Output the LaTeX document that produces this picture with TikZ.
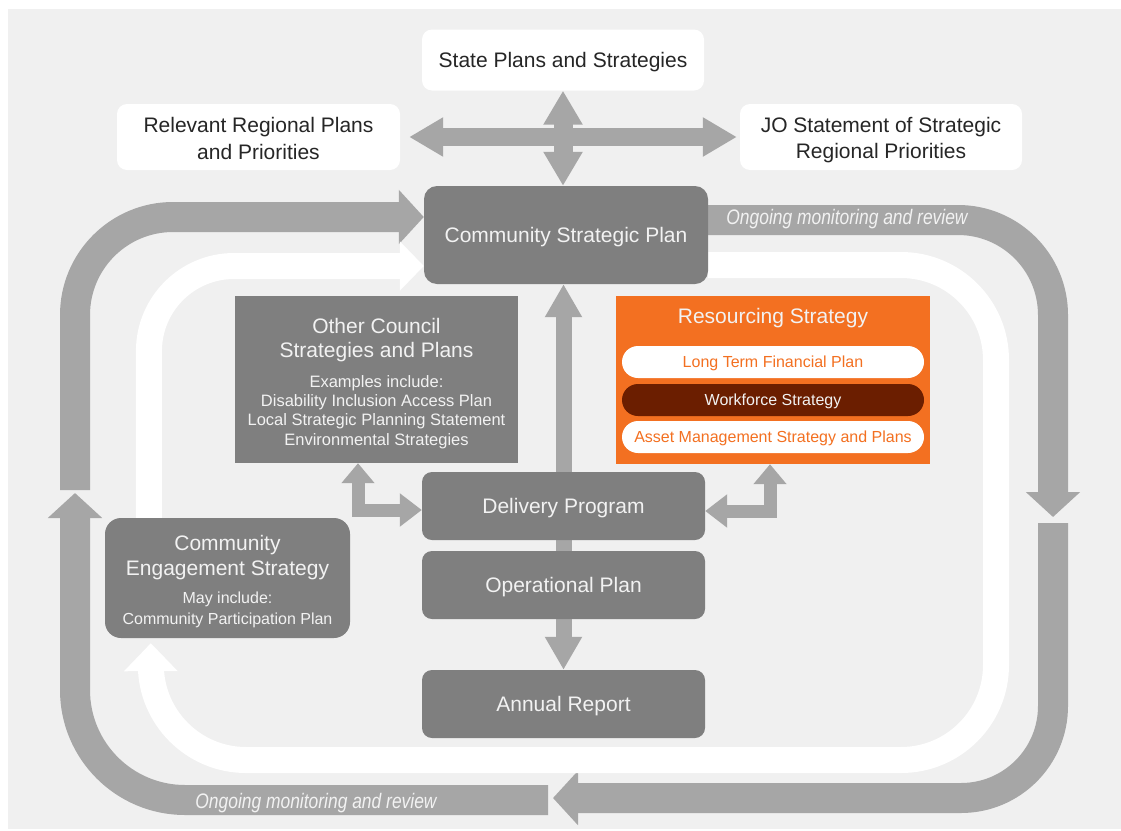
\documentclass[tikz,border=0pt]{standalone}
\usepackage{fontspec}
\setmainfont{Liberation Sans}
\usetikzlibrary{arrows.meta,calc}
\definecolor{bgc}{HTML}{F0F0F0}
\definecolor{boxc}{HTML}{7F7F7F}
\definecolor{arrc}{HTML}{A6A6A6}
\definecolor{orng}{HTML}{F37021}
\definecolor{brwn}{HTML}{6B1E00}
\definecolor{ltxt}{HTML}{F2F2F2}
\definecolor{dtxt}{HTML}{262626}
\newcommand{\lnstrut}{\rule[-3pt]{0pt}{24pt}}
\pgfdeclarelayer{back}
\pgfdeclarelayer{arrowlayer}
\pgfsetlayers{back,arrowlayer,main}
\begin{document}
\begin{tikzpicture}[x=1pt,y=-1pt,
  bigfont/.style={font=\fontsize{21}{25}\selectfont},
  oneline/.style={text height=15pt, text depth=0pt},
  whitebox/.style={fill=white, rounded corners=10pt, text=dtxt, align=center, inner sep=0pt, bigfont},
  darkbox/.style={fill=boxc, rounded corners=10pt, text=ltxt, align=center, inner sep=0pt, bigfont},
  pill/.style={fill=white, text=orng, rounded corners=16pt, minimum width=302pt, minimum height=32pt, inner sep=0pt, text height=11.5pt, text depth=0pt, font=\fontsize{16}{19}\selectfont},
  montext/.style={text=ltxt, inner sep=0pt, oneline, font=\fontsize{21}{25}\selectfont\itshape},
  grayarrow/.style={draw=arrc, line width=30pt, -{Triangle[length=25pt,width=53pt]}},
  whitearrow/.style={draw=white, line width=26pt, -{Triangle[length=28pt,width=52pt]}},
  crossarrow/.style={draw=arrc, line width=19pt, {Triangle[length=34pt,width=37pt]}-{Triangle[length=34pt,width=37pt]}},
  midarrow/.style={draw=arrc, line width=16pt, -{Triangle[length=33pt,width=35pt]}},
  elbowarrow/.style={draw=arrc, line width=13pt, line join=miter, {Triangle[length=20pt,width=32pt]}-{Triangle[length=22pt,width=32pt]}}
]
\useasboundingbox (0,0) rectangle (1121,830);

% nodes
\node[whitebox, oneline, minimum width=282pt, minimum height=61pt] (state) at (563,60) {State Plans and Strategies};
\node[whitebox, minimum width=283pt, minimum height=66pt] (reg) at (258.5,137) {\lnstrut Relevant Regional Plans\\\lnstrut and Priorities};
\node[whitebox, minimum width=282pt, minimum height=66pt] (jo) at (881,137) {\lnstrut JO Statement of Strategic\\\lnstrut Regional Priorities};
\node[darkbox, oneline, rounded corners=13pt, minimum width=284pt, minimum height=98pt] (csp) at (566,235) {Community Strategic Plan};
\node[darkbox, sharp corners, minimum width=283pt, minimum height=167pt] (ocs) at (376.5,379.5) {\parbox{280pt}{\vspace*{8pt}\centering\fontsize{21}{24}\selectfont Other Council\\Strategies and Plans\par\vspace{10pt}\fontsize{16.5}{19.4}\selectfont Examples include:\\Disability Inclusion Access Plan\\Local Strategic Planning Statement\\Environmental Strategies\par}};
\node[fill=orng, minimum width=314pt, minimum height=168pt, inner sep=0pt] (rs) at (773,380) {};
\node[text=ltxt, inner sep=0pt, bigfont, oneline] (rstitle) at (773,316) {Resourcing Strategy};
\node[pill] (ltfp) at (773,362) {Long Term Financial Plan};
\node[pill, fill=brwn, text=ltxt] (wfs) at (773,400) {Workforce Strategy};
\node[pill] (amsp) at (773,437) {Asset Management Strategy and Plans};
\node[darkbox, oneline, minimum width=283pt, minimum height=68pt] (dp) at (563.5,506) {Delivery Program};
\node[darkbox, oneline, minimum width=283pt, minimum height=68pt] (op) at (563.5,585) {Operational Plan};
\node[darkbox, oneline, minimum width=283pt, minimum height=68pt] (ar) at (563.5,704) {Annual Report};
\node[darkbox, rounded corners=16pt, minimum width=245pt, minimum height=120pt] (ces) at (227.5,578) {\parbox{240pt}{\vspace*{7pt}\centering\fontsize{21}{25}\selectfont Community\\Engagement Strategy\par\vspace{7pt}\fontsize{16}{21}\selectfont May include:\\Community Participation Plan\par}};

\node[montext] (mon1) at (847,217) {\scalebox{0.83}[1]{Ongoing monitoring and review}};
\node[montext] (mon2) at (316,801) {\scalebox{0.83}[1]{Ongoing monitoring and review}};

\coordinate (g1s) at (75,490);
\coordinate (g2s) at (548,800);
\coordinate (g2e) at (75,493);
\coordinate (g3e) at (1053,517);
\coordinate (g4s) at (1053,523);
\coordinate (g4e) at (553,798);

\begin{pgfonlayer}{back}
\fill[bgc] (8,9) rectangle (1121,829);
\end{pgfonlayer}

\begin{pgfonlayer}{arrowlayer}
% outer grey loop
\draw[grayarrow, rounded corners=98pt] (g1s) -- (75,217) -- ([yshift=18pt]csp.west);
\draw[grayarrow, rounded corners=110pt] (g2s) -- (75,800) -- (g2e);
\draw[grayarrow, rounded corners=95pt] ([yshift=15pt]csp.east) -- (1053,220) -- (g3e);
\draw[grayarrow, rounded corners=92pt] (g4s) -- (1053,798) -- (g4e);
% inner white loop
\draw[whitearrow, -{Triangle[length=24pt,width=48pt]}, rounded corners=85pt] ([xshift=44pt]ces.north west) -- (149,266) -- ([yshift=-31pt]csp.west);
\draw[whitearrow, rounded corners=95pt] ([yshift=-30pt]csp.east) -- (996,265) -- (996,760) -- (151,760) -- ([xshift=46pt,yshift=-5pt]ces.south west);
% cross
\draw[crossarrow] (state.south) -- (state.south |- csp.north);
\draw[crossarrow, line width=18pt] ([xshift=9pt]reg.east) -- ([xshift=-3pt]jo.west);
% central
\draw[midarrow] (op.center) -- (op.center |- csp.south);
\draw[midarrow] (op.south) -- (ar.north);
% elbows
\draw[elbowarrow] ([xshift=-18.5pt]ocs.south) |- ([yshift=-4pt]dp.west);
\draw[elbowarrow] ([xshift=-3pt]rs.south) |- ([yshift=-5pt]dp.east);
\end{pgfonlayer}
\end{tikzpicture}
\end{document}
